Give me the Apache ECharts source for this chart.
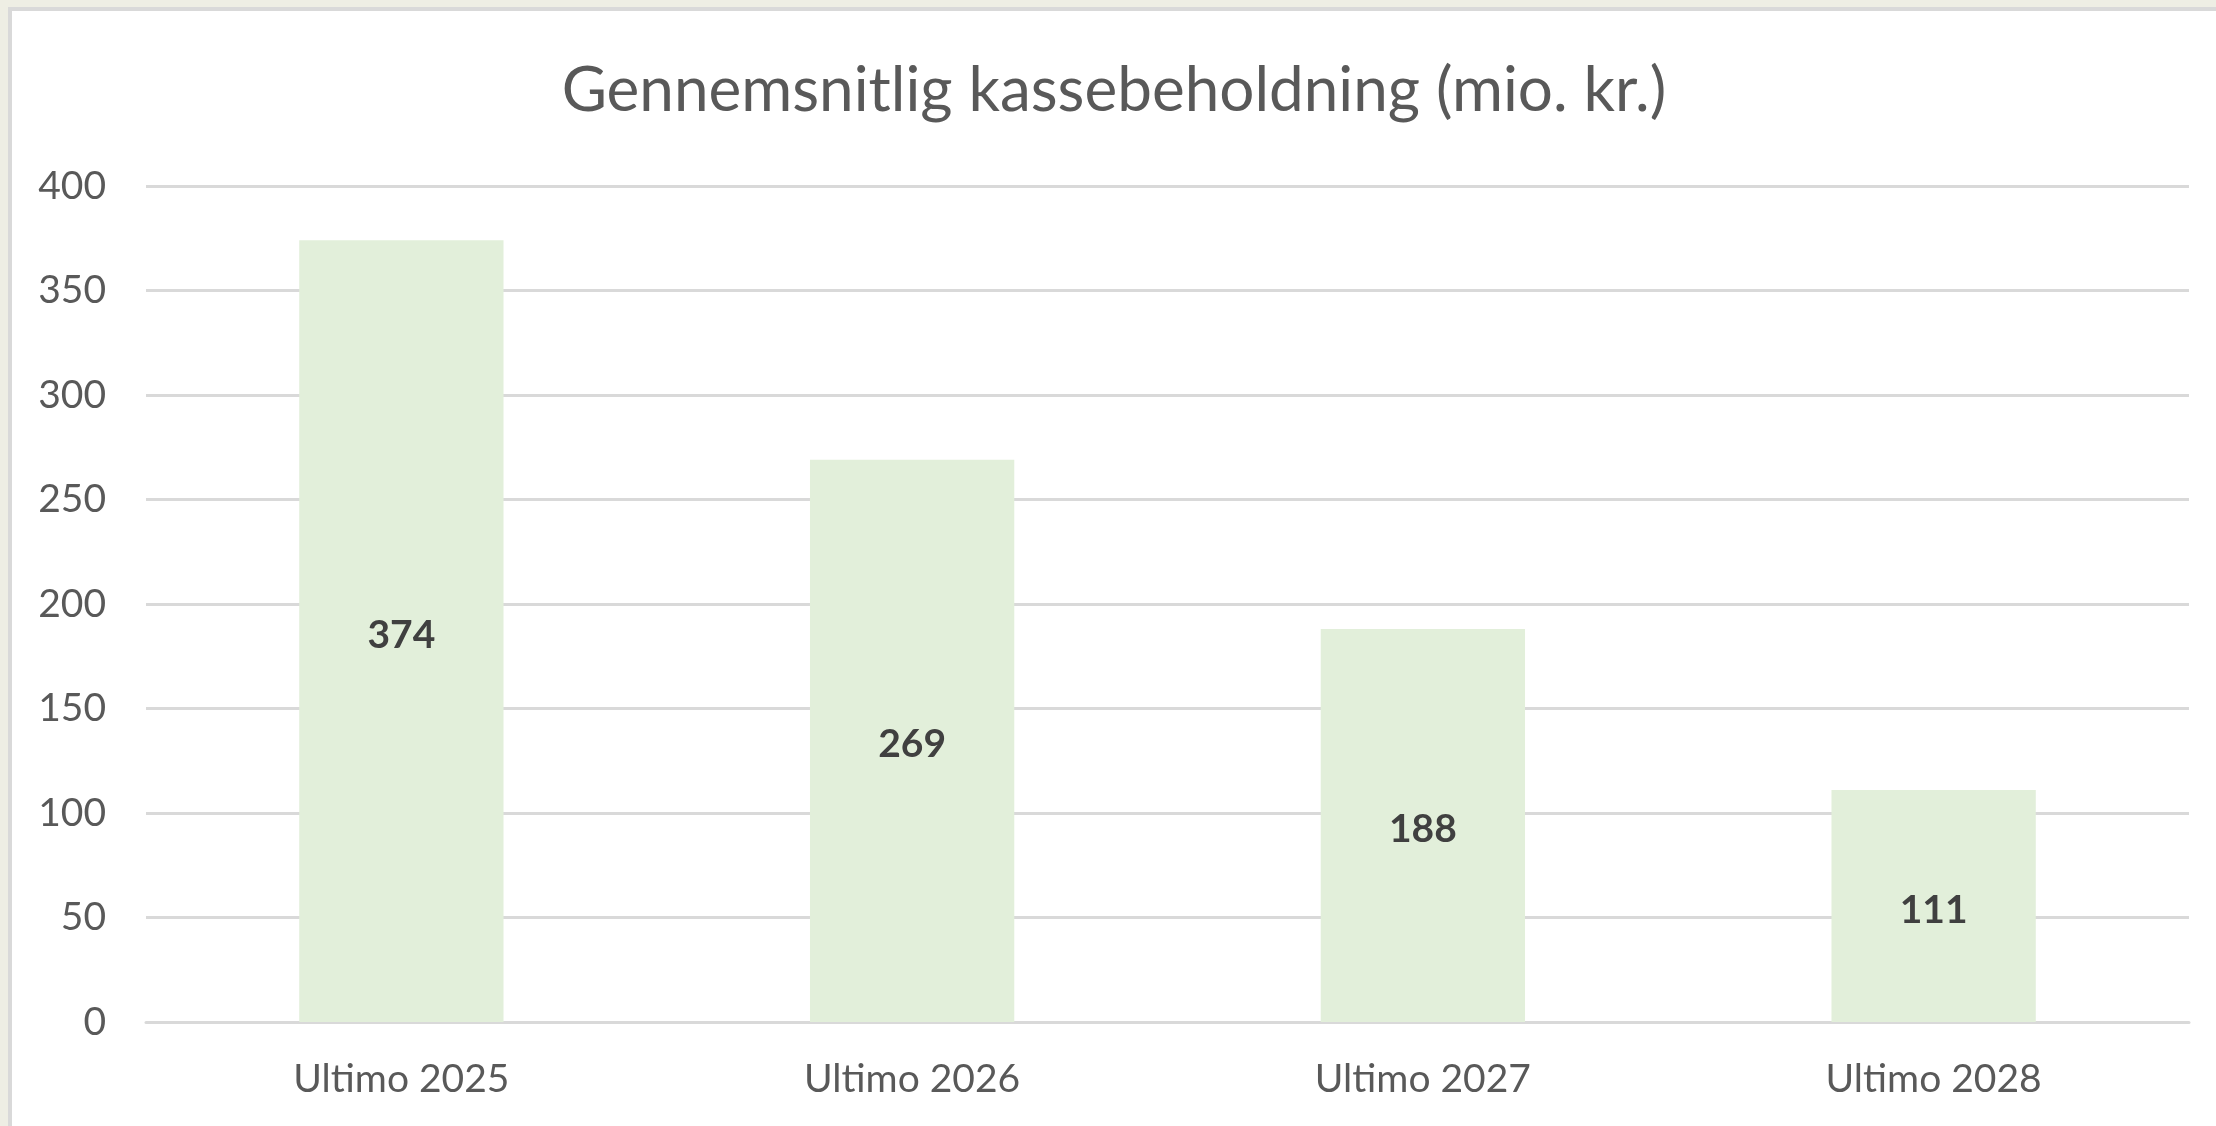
<!DOCTYPE html>
<html lang="da">
<head>
  <meta charset="UTF-8">
  <title>Gennemsnitlig kassebeholdning</title>
  <style>
    html, body { margin: 0; padding: 0; background: #eeeee4; overflow: hidden; }
    #main {
      position: absolute; left: 8px; top: 7px;
      width: 2204px; height: 1115px;
      background: #fff;
      border-left: 4px solid #d9d9d9;
      border-top: 4px solid #d9d9d9;
    }
  </style>
</head>
<body>
  <div id="main"></div>
  <script src="https://cdn.jsdelivr.net/npm/echarts@6/dist/echarts.min.js"></script>
  <script>
    // data
    const categories = ['Ultimo 2025', 'Ultimo 2026', 'Ultimo 2027', 'Ultimo 2028']
    const values = [374, 269, 188, 111]
    const yTicks = [0, 50, 100, 150, 200, 250, 300, 350, 400]

    const font = 'Lato, "Open Sans", sans-serif'
    const chart = echarts.init(document.getElementById('main'))

    chart.setOption({
      backgroundColor: '#fff',
      animation: false,
      title: {
        text: 'Gennemsnitlig kassebeholdning (mio. kr.)',
        left: 'center',
        top: 44,
        padding: [5, 0, 5, 38],
        textStyle: { fontFamily: font, fontSize: 62, fontWeight: 'normal', color: '#595959' }
      },
      grid: { left: 134, right: 27, top: 175, bottom: 104 },
      xAxis: {
        type: 'category',
        data: categories,
        axisLine: { lineStyle: { color: '#d9d9d9', width: 3 } },
        axisTick: { show: false },
        axisLabel: { margin: 38, fontFamily: font, fontSize: 39, color: '#595959' }
      },
      yAxis: {
        type: 'value',
        min: yTicks[0],
        max: yTicks[yTicks.length - 1],
        interval: yTicks[1] - yTicks[0],
        axisLine: { show: false },
        axisTick: { show: false },
        axisLabel: { margin: 40, fontFamily: font, fontSize: 39, color: '#595959' },
        splitLine: { lineStyle: { color: '#d9d9d9', width: 3 } }
      },
      series: [{
        type: 'bar',
        data: values,
        barWidth: '40%',
        itemStyle: { color: '#e2efda' },
        label: {
          show: true,
          position: 'inside',
          offset: [0, 4],
          fontFamily: font,
          fontSize: 39,
          fontWeight: 'bold',
          color: '#404040'
        }
      }]
    })
  </script>
</body>
</html>
